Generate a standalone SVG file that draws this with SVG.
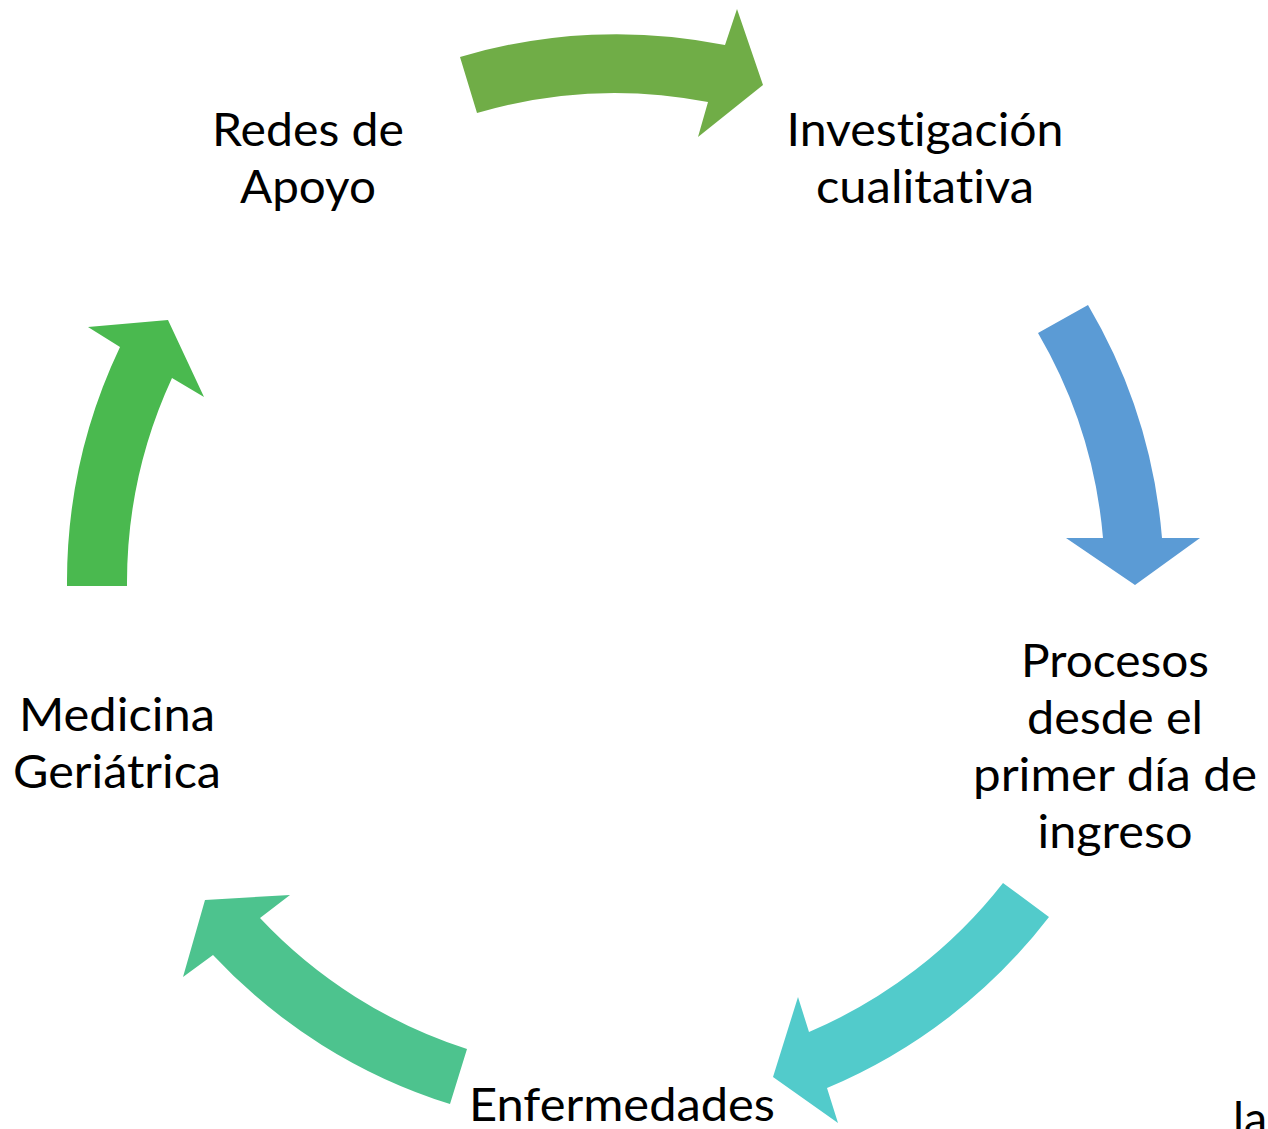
<svg xmlns="http://www.w3.org/2000/svg" width="1268" height="1129" viewBox="0 0 1268 1129">
<style>
  .lbl { font-family: Lato, "Open Sans", "Liberation Sans", sans-serif; font-size: 46.5px; fill: #000000; text-anchor: middle; font-variant-ligatures: none; font-feature-settings: "liga" 0, "dlig" 0; }
  .lbl-start { font-family: Lato, "Open Sans", "Liberation Sans", sans-serif; font-size: 46.5px; fill: #000000; font-variant-ligatures: none; }
</style>
<rect x="0" y="0" width="1268" height="1129" fill="#ffffff"/>
<g id="connectors">
  <path id="arrow-redes-investigacion" fill="#70AD47" d="M 460,57 A 547.5 547.5 0 0 1 725,45 L 737,9 L 763,85 L 698,137 L 708,102 A 489 489 0 0 0 477,113 Z"/>
  <path id="arrow-investigacion-procesos" fill="#5B9BD5" d="M 1088,305 A 547.5 547.5 0 0 1 1162,538 L 1200,538 L 1135,585 L 1066,538 L 1103,538 A 489 489 0 0 0 1038,333 Z"/>
  <path id="arrow-procesos-enfermedades" fill="#52CBCB" d="M 1049,917 A 547.5 547.5 0 0 1 827,1088 L 838,1123 L 773,1077 L 798,997 L 809,1032 A 489 489 0 0 0 1003,883 Z"/>
  <path id="arrow-enfermedades-medicina" fill="#4DC38E" d="M 450,1104 A 547.5 547.5 0 0 1 213,955 L 183,977 L 205,900 L 290,895 L 260,918 A 489 489 0 0 0 467,1049 Z"/>
  <path id="arrow-medicina-redes" fill="#4AB94F" d="M 67,586 A 547.5 547.5 0 0 1 120,347 L 88,327 L 168,320 L 204,397 L 172,378 A 489 489 0 0 0 127,586 Z"/>
</g>
<g id="node-redes">
  <text class="lbl" x="308" y="146" textLength="192" lengthAdjust="spacingAndGlyphs">Redes de</text>
  <text class="lbl" x="308" y="203" textLength="136" lengthAdjust="spacingAndGlyphs">Apoyo</text>
</g>
<g id="node-investigacion">
  <text class="lbl" x="925" y="146" textLength="277" lengthAdjust="spacingAndGlyphs">Investigación</text>
  <text class="lbl" x="925" y="203" textLength="218" lengthAdjust="spacingAndGlyphs">cualitativa</text>
</g>
<g id="node-procesos">
  <text class="lbl" x="1115" y="677" textLength="188" lengthAdjust="spacingAndGlyphs">Procesos</text>
  <text class="lbl" x="1115" y="734" textLength="176" lengthAdjust="spacingAndGlyphs">desde el</text>
  <text class="lbl" x="1115" y="791" textLength="284" lengthAdjust="spacingAndGlyphs">primer día de</text>
  <text class="lbl" x="1115" y="848" textLength="155" lengthAdjust="spacingAndGlyphs">ingreso</text>
</g>
<g id="node-enfermedades">
  <text class="lbl" x="622" y="1121" textLength="306" lengthAdjust="spacingAndGlyphs">Enfermedades</text>
  <text class="lbl-start" x="1233" y="1135">la</text>
</g>
<g id="node-medicina">
  <text class="lbl" x="117" y="731" textLength="196" lengthAdjust="spacingAndGlyphs">Medicina</text>
  <text class="lbl" x="117" y="788" textLength="208" lengthAdjust="spacingAndGlyphs">Geriátrica</text>
</g>
</svg>
